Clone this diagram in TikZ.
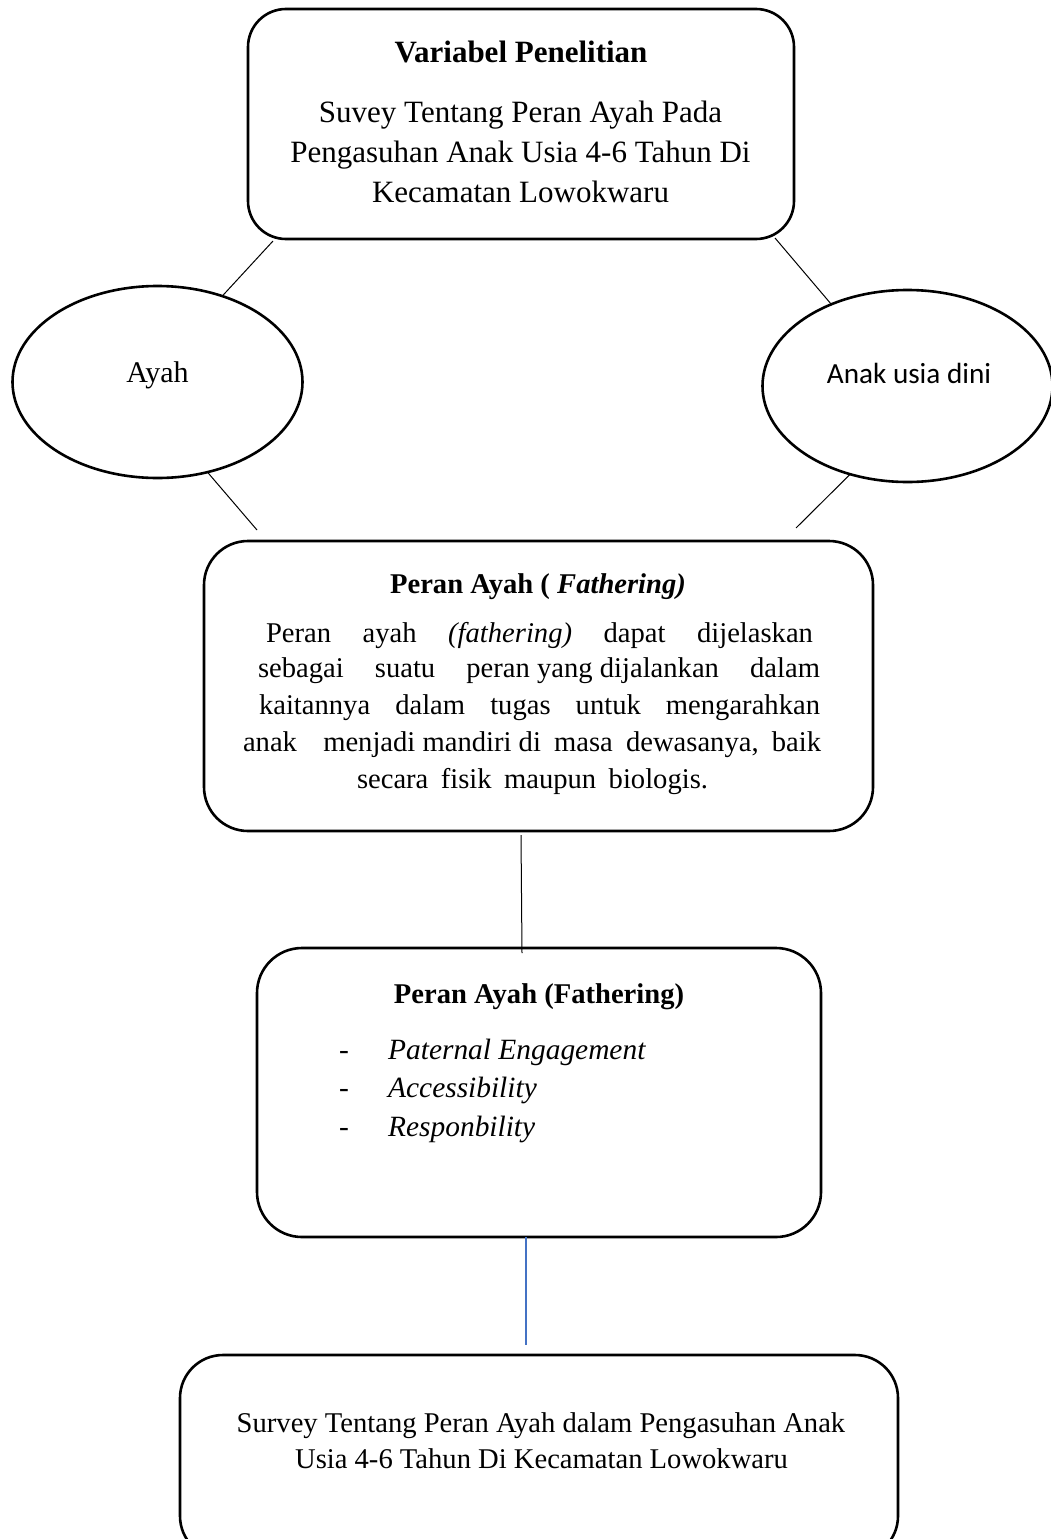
\documentclass[tikz,border=0pt]{standalone}
\usepackage{fontspec}
\setmainfont{Liberation Serif}
\newfontfamily\calibri{Carlito}
\usetikzlibrary{shapes.geometric,calc}
\definecolor{lineblue}{HTML}{4472C4}
\begin{document}
\begin{tikzpicture}[x=1pt,y=-1pt,
  boxshape/.style={draw,line width=2.6pt,rounded corners=#1,inner sep=0pt,outer sep=0pt},
  boxshape/.default=40pt,
  ovalshape/.style={draw,ellipse,line width=2.6pt,inner sep=0pt,outer sep=0pt,minimum width=290pt,minimum height=192pt},
  conn/.style={draw,line width=1pt},
  blueconn/.style={draw=lineblue,line width=1.2pt},
  txtL/.style={anchor=base,inner sep=0pt,font=\fontsize{31}{40}\selectfont},
  txtM/.style={anchor=base,inner sep=0pt,font=\fontsize{28.6}{36}\selectfont},
  txtI/.style={anchor=base west,inner sep=0pt,font=\fontsize{29.4}{38}\selectfont\itshape},
  dashtxt/.style={anchor=base,inner sep=0pt,font=\fontsize{29.4}{38}\selectfont}]
\useasboundingbox (0,0) rectangle (1051,1539);
\clip (0,0) rectangle (1051,1539);
\fill[white] (0,0) rectangle (1051,1539);

% shapes
\node[boxshape=38pt,minimum width=546pt,minimum height=230pt] (box1) at (521,124) {};
\node[ovalshape] (ayah) at (157.5,382) {};
\node[ovalshape] (anak) at (907.5,386) {};
\node[boxshape=44pt,minimum width=669pt,minimum height=290pt] (box2) at (538.5,686) {};
\node[boxshape=45pt,minimum width=564pt,minimum height=289pt] (box3) at (539,1092.5) {};
\node[boxshape=43pt,minimum width=718pt,minimum height=204pt] (box4) at (539,1457) {};

% box 1 text
\node[txtL] (t1a) at (521,62) {\textbf{Variabel Penelitian}};
\node[txtL] (t1b) at (520.5,122) {Suvey Tentang Peran Ayah Pada};
\node[txtL] (t1c) at (520.5,162) {Pengasuhan Anak Usia 4-6 Tahun Di};
\node[txtL] (t1d) at (520.5,202) {Kecamatan Lowokwaru};

% ellipse texts
\node[anchor=base,inner sep=0pt,font=\fontsize{30}{36}\selectfont] (tayah) at (157.5,382) {Ayah};
\node[anchor=base,inner sep=0pt,font=\calibri\fontsize{29.2}{36}\selectfont] (tanak) at (909,383) {Anak usia dini};

% box 2 text
\node[txtM] (t2a) at (538,593) {\textbf{Peran Ayah ( \textit{Fathering)}}};
\node[txtM] (t2b) at (539.5,642) {\makebox[547pt]{Peran\hfill ayah\hfill \textit{(fathering)}\hfill dapat\hfill dijelaskan}};
\node[txtM] (t2c) at (539,677) {\makebox[562pt]{sebagai\hfill suatu\hfill peran yang dijalankan\hfill dalam}};
\node[txtM] (t2d) at (539.5,714) {\makebox[561pt]{kaitannya\hfill dalam\hfill tugas\hfill untuk\hfill mengarahkan}};
\node[txtM] (t2e) at (532,751) {\makebox[578pt]{anak\hfill\hfill menjadi mandiri di\hfill masa\hfill dewasanya,\hfill baik}};
\node[txtM] (t2f) at (532.5,788) {\makebox[351pt]{secara\hfill fisik\hfill maupun\hfill biologis.}};

% box 3 text
\node[txtM] (t3a) at (539,1003) {\textbf{Peran Ayah (Fathering)}};
\node[dashtxt] (d3a) at (344,1059) {-};
\node[dashtxt] (d3b) at (344,1097) {-};
\node[dashtxt] (d3c) at (344,1136) {-};
\node[txtI] (t3b) at (388,1059) {Paternal Engagement};
\node[txtI] (t3c) at (388,1097) {Accessibility};
\node[txtI] (t3d) at (388,1136) {Responbility};

% box 4 text
\node[txtM] (t4a) at (541,1432) {Survey Tentang Peran Ayah dalam Pengasuhan Anak};
\node[txtM] (t4b) at (541.5,1468) {Usia 4-6 Tahun Di Kecamatan Lowokwaru};

% connectors
\draw[conn] ($(box1.south west)+(25,2)$) -- (ayah.53);
\draw[conn] ($(box1.south east)+(-19,-1)$) -- (anak.133);
\draw[conn] (ayah.-61) -- ($(box2.north west)+(53,-11)$);
\draw[conn] (anak.-123) -- ($(box2.north east)+(-77,-13)$);
\draw[conn] ($(box2.south)+(-17.5,4)$) -- ($(box3.north)+(-17,5)$);
\draw[blueconn] ($(box3.south)+(-13,0)$) -- ($(box4.north)+(-13,-10)$);
\end{tikzpicture}
\end{document}
